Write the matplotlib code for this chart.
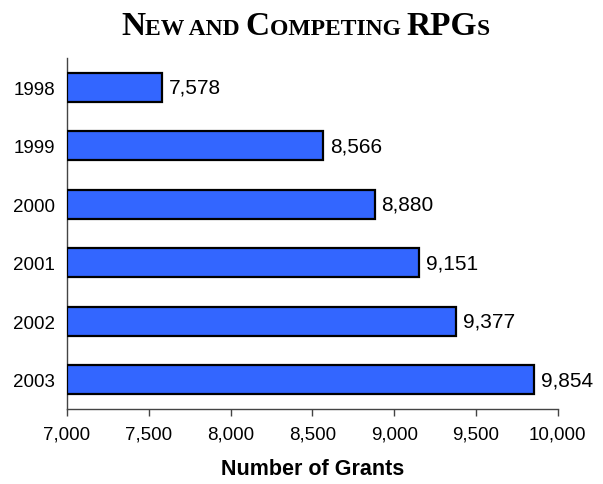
import matplotlib
matplotlib.use("Agg")
import matplotlib.pyplot as plt
from matplotlib.ticker import FuncFormatter
from matplotlib.font_manager import FontProperties

years = ["1998", "1999", "2000", "2001", "2002", "2003"]
grants = [7578, 8566, 8880, 9151, 9377, 9854]
x_ticks = [7000, 7500, 8000, 8500, 9000, 9500, 10000]

plt.rcParams["font.family"] = ["Liberation Sans", "DejaVu Sans"]

fig = plt.figure(figsize=(6.03, 4.85), dpi=100)
ax = fig.add_axes([0.111, 0.155, 0.814, 0.723])

pos = list(range(len(years)))
ax.barh(pos, [g - 7000 for g in grants], left=7000, height=0.5,
        color="#3366FF", edgecolor="black", linewidth=1.6, zorder=3)

for p, g in zip(pos, grants):
    ax.annotate(f"{g:,}", (g, p), xytext=(5, 0), textcoords="offset points",
                va="center", ha="left", fontsize=15)

ax.set_xlim(7000, 10000)
ax.set_ylim(len(years) - 0.5, -0.5)
ax.set_xticks(x_ticks)
ax.xaxis.set_major_formatter(FuncFormatter(lambda v, _: f"{int(v):,}"))
ax.set_yticks(pos)
ax.set_yticklabels(years)
ax.tick_params(axis="x", direction="out", length=5, width=1, colors="#444444",
               labelcolor="black", labelsize=13.5, pad=7)
ax.tick_params(axis="y", length=0, labelsize=13.5, pad=8.5)
for side in ("top", "right"):
    ax.spines[side].set_visible(False)
for side in ("left", "bottom"):
    ax.spines[side].set_color("#444444")
    ax.spines[side].set_linewidth(1)

ax.set_xlabel("Number of Grants", fontsize=15.5, fontweight="bold", labelpad=11)

# Small-caps title assembled from large and small capitals
pieces = [("N", 24), ("EW AND ", 17), ("C", 24), ("OMPETING ", 17),
          ("RPG", 24), ("S", 17)]
fig.canvas.draw()
renderer = fig.canvas.get_renderer()
advances = []
for s, size in pieces:
    prop = FontProperties(family="Liberation Serif", weight="bold", size=size)
    w, _, _ = renderer.get_text_width_height_descent(s, prop, ismath=False)
    advances.append(w)
total = sum(advances)
x = 0.507 * fig.bbox.width - total / 2
for (s, size), w in zip(pieces, advances):
    fig.text(x / fig.bbox.width, 1 - 35 / 485, s, fontsize=size, fontweight="bold",
             family="Liberation Serif", ha="left", va="baseline")
    x += w

fig.savefig("out.png", dpi=100)
